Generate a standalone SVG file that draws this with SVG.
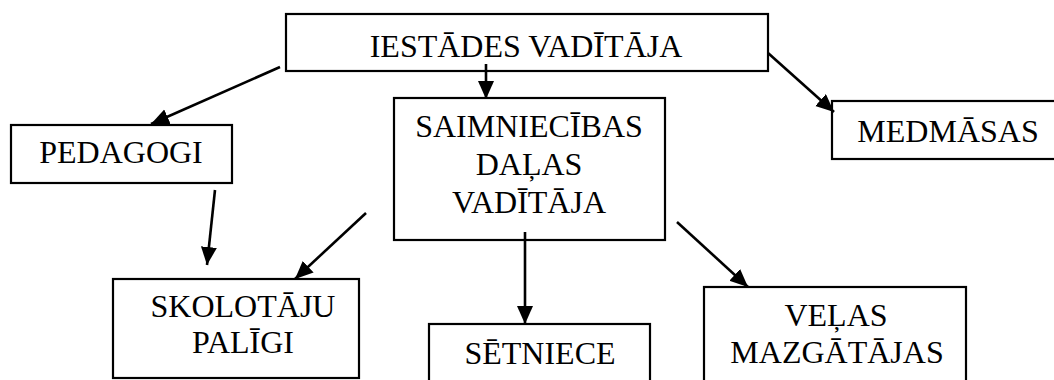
<svg xmlns="http://www.w3.org/2000/svg" width="1054" height="380" viewBox="0 0 1054 380">
<style>
.box{fill:#fff;stroke:#000;stroke-width:2.2}
.lbl{font-family:"Liberation Serif","Times New Roman",serif;font-size:32px;fill:#000;text-anchor:middle}
.edge{stroke:#000;stroke-width:2.6;fill:none;marker-end:url(#ah)}
</style>
<defs>
<marker id="ah" markerUnits="userSpaceOnUse" markerWidth="20" markerHeight="18" refX="18" refY="8" orient="auto">
<path d="M0,0 L18,8 L0,16 z" fill="#000"/>
</marker>
</defs>
<rect width="1054" height="380" fill="#fff"/>
<g id="n-iestades">
<rect class="box" x="286" y="14" width="482" height="57"/>
<text class="lbl" x="526" y="57">IESTĀDES VADĪTĀJA</text>
</g>
<g id="n-saimniecibas">
<rect class="box" x="394" y="98" width="271" height="142"/>
<text class="lbl" x="529" y="137">SAIMNIECĪBAS</text>
<text class="lbl" x="529" y="175">DAĻAS</text>
<text class="lbl" x="529" y="213">VADĪTĀJA</text>
</g>
<g id="n-pedagogi">
<rect class="box" x="11" y="125" width="221" height="58"/>
<text class="lbl" x="121" y="163">PEDAGOGI</text>
</g>
<g id="n-medmasas">
<rect class="box" x="832" y="101" width="240" height="58"/>
<text class="lbl" x="948" y="142">MEDMĀSAS</text>
</g>
<g id="n-skolotaju">
<rect class="box" x="113" y="279" width="246" height="99"/>
<text class="lbl" x="243" y="317">SKOLOTĀJU</text>
<text class="lbl" x="243" y="353">PALĪGI</text>
</g>
<g id="n-setniece">
<rect class="box" x="429" y="324" width="221" height="70"/>
<text class="lbl" x="540" y="364">SĒTNIECE</text>
</g>
<g id="n-velas">
<rect class="box" x="704" y="287" width="262" height="110"/>
<text class="lbl" x="836" y="326">VEĻAS</text>
<text class="lbl" x="837" y="363">MAZGĀTĀJAS</text>
</g>
<g id="connectors">
<line class="edge" x1="486" y1="64" x2="486" y2="99"/>
<line class="edge" x1="280" y1="67" x2="151" y2="124"/>
<line class="edge" x1="768" y1="53" x2="834" y2="112"/>
<line class="edge" x1="215" y1="190" x2="207" y2="265"/>
<line class="edge" x1="366" y1="213" x2="295" y2="279"/>
<line class="edge" x1="525" y1="232" x2="525" y2="324"/>
<line class="edge" x1="677" y1="222" x2="748" y2="287"/>
</g>
</svg>
